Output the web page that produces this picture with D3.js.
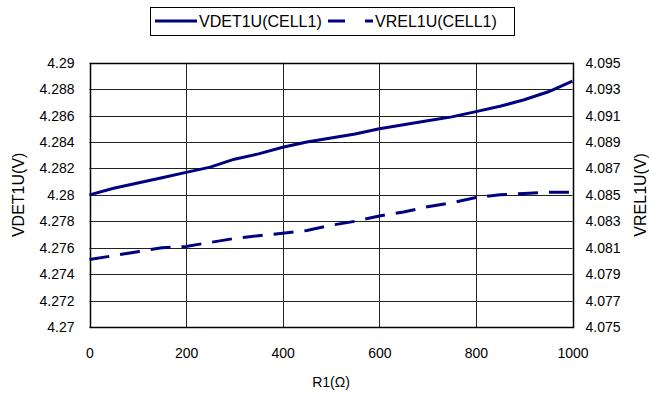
<!DOCTYPE html>
<html><head><meta charset="utf-8">
<script src="https://cdn.jsdelivr.net/npm/d3@7"></script>
<style>body{margin:0;background:#fff}svg{display:block}text{font-family:"Liberation Sans",Arial,sans-serif;fill:#000}</style>
</head><body><svg id="c" width="649" height="394"></svg>
<script>
const r1 = [0,50,100,150,200,250,300,350,400,450,500,550,600,650,700,750,800,850,900,950,1000];
const vdet = [4.2800,4.2805,4.2809,4.2813,4.2817,4.2821,4.2827,4.2831,4.2836,4.2840,4.2843,4.2846,4.2850,4.2853,4.2856,4.2859,4.2863,4.2867,4.2872,4.2878,4.2886];
const vrel = [4.0801,4.0804,4.0807,4.0810,4.0811,4.0814,4.0817,4.0819,4.0821,4.0823,4.0827,4.0830,4.0834,4.0837,4.0841,4.0844,4.0848,4.0850,4.0851,4.0852,4.0852];
const xTicks = [0,200,400,600,800,1000];
const yLeftTicks = [4.27,4.272,4.274,4.276,4.278,4.28,4.282,4.284,4.286,4.288,4.29];
const yRightTicks = [4.075,4.077,4.079,4.081,4.083,4.085,4.087,4.089,4.091,4.093,4.095];
const seriesNames = ["VDET1U(CELL1)","VREL1U(CELL1)"];

const L=89.5, R=572.5, T=62.7, B=327;
const svg = d3.select("#c");
const x = d3.scaleLinear().domain([0,1000]).range([L,R]);
const yL = d3.scaleLinear().domain([4.27,4.29]).range([B,T]);
const yR = d3.scaleLinear().domain([4.075,4.095]).range([B,T]);
const navy = "#000080";
const FONT = "Liberation Sans, Arial, sans-serif";

// grid
svg.append("g").selectAll("line").data(yLeftTicks).join("line")
  .attr("x1",L).attr("x2",R).attr("y1",d=>Math.round(yL(d))+0.5).attr("y2",d=>Math.round(yL(d))+0.5)
  .attr("stroke","#222").attr("stroke-width",1);
svg.append("g").selectAll("line").data(xTicks).join("line")
  .attr("x1",d=>Math.round(x(d))+0.5).attr("x2",d=>Math.round(x(d))+0.5).attr("y1",T).attr("y2",B)
  .attr("stroke","#222").attr("stroke-width",1);
svg.append("rect").attr("x",Math.round(L)+0.5).attr("y",Math.round(T)+0.5)
  .attr("width",Math.round(R)-Math.round(L)).attr("height",Math.round(B)-Math.round(T))
  .attr("fill","none").attr("stroke","#000").attr("stroke-width",1.5);

// axes
const ax = d3.axisBottom(x).tickValues(xTicks).tickSize(0).tickPadding(21).tickFormat(d3.format("d"));
const gx = svg.append("g").attr("transform",`translate(0,${B})`).call(ax);
const al = d3.axisLeft(yL).tickValues(yLeftTicks).tickSize(0).tickPadding(15).tickFormat(d=>d3.format("")(+d.toFixed(3)));
const gl = svg.append("g").attr("transform",`translate(${L},0)`).call(al);
const ar = d3.axisRight(yR).tickValues(yRightTicks).tickSize(0).tickPadding(13).tickFormat(d3.format(".3f"));
const gr = svg.append("g").attr("transform",`translate(${R},0)`).call(ar);
[gx,gl,gr].forEach(g=>{g.select(".domain").remove();g.selectAll("text").attr("font-size","14px").attr("font-family",FONT).attr("fill","#000");});

// lines
const lineL = d3.line().x((d,i)=>x(r1[i])).y(d=>yL(d));
const lineR = d3.line().x((d,i)=>x(r1[i])).y(d=>yR(d));
svg.append("path").datum(vdet).attr("d",lineL).attr("fill","none").attr("stroke",navy).attr("stroke-width",3);
svg.append("path").datum(vrel).attr("d",lineR).attr("fill","none").attr("stroke",navy).attr("stroke-width",3).attr("stroke-dasharray","20,11");

// titles
svg.append("text").attr("x",(L+R)/2).attr("y",387).attr("text-anchor","middle").attr("font-size","14px").text("R1(Ω)");
svg.append("text").attr("transform",`translate(24,${(T+B)/2}) rotate(-90)`).attr("text-anchor","middle").attr("font-size","16px").text("VDET1U(V)");
svg.append("text").attr("transform",`translate(646,${(T+B)/2}) rotate(-90)`).attr("text-anchor","middle").attr("font-size","16px").text("VREL1U(V)");

// legend
const lg = svg.append("g");
lg.append("rect").attr("x",150.5).attr("y",7.5).attr("width",364).attr("height",28).attr("fill","#fff").attr("stroke","#000").attr("stroke-width",1);
lg.append("line").attr("x1",155).attr("x2",197).attr("y1",21).attr("y2",21).attr("stroke",navy).attr("stroke-width",3);
lg.append("text").attr("x",199).attr("y",27).attr("font-size","16px").text(seriesNames[0]);
lg.append("line").attr("x1",328).attr("x2",373).attr("y1",21).attr("y2",21).attr("stroke",navy).attr("stroke-width",3).attr("stroke-dasharray","17,20");
lg.append("text").attr("x",375).attr("y",27).attr("font-size","16px").text(seriesNames[1]);
</script></body></html>
